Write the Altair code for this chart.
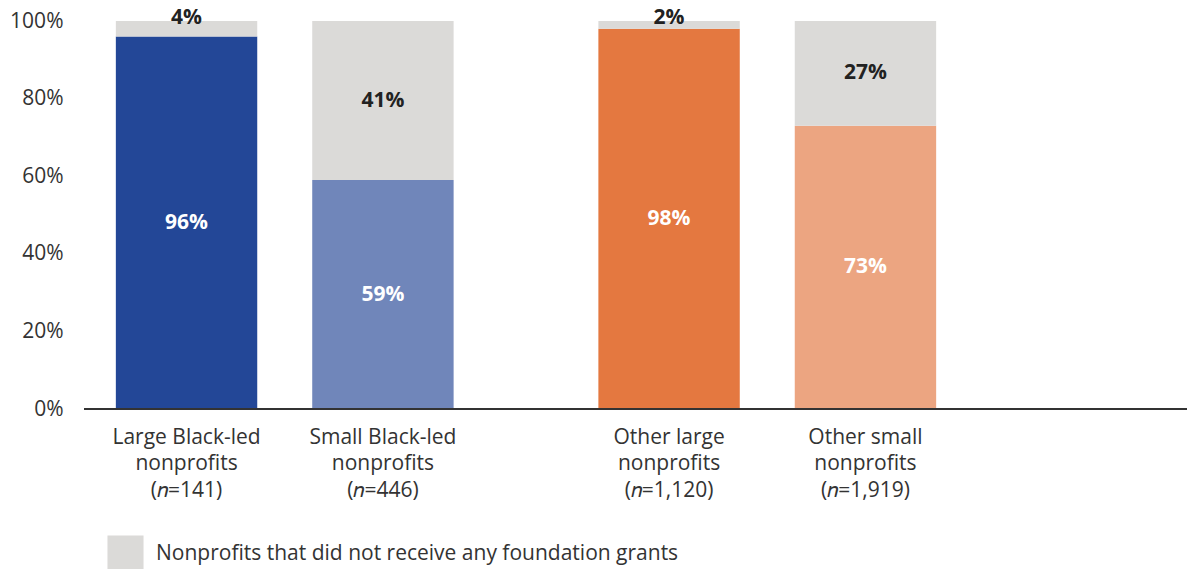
import altair as alt
import pandas as pd

# ---- data ----
groups = ["Black-led", "Black-led", "Other", "Other"]
sizes = ["Large", "Small", "Large", "Small"]
names = ["Large Black-led nonprofits", "Small Black-led nonprofits",
         "Other large nonprofits", "Other small nonprofits"]
line1 = ["Large Black-led", "Small Black-led", "Other large", "Other small"]
line2 = ["nonprofits", "nonprofits", "nonprofits", "nonprofits"]
sample_n = ["141", "446", "1,120", "1,919"]
received = [96, 59, 98, 73]
not_received = [4, 41, 2, 27]
none_label = "Nonprofits that did not receive any foundation grants"

bar_colors = ["#234797", "#7086ba", "#e47840", "#eca581"]
gray = "#dbdad8"
FONT = "Open Sans"
FS = 21

rows = []
for g, s, nm, r, nr in zip(groups, sizes, names, received, not_received):
    rows.append(dict(group=g, size=s, key=nm, seg="received", y0=0, y1=r, val=r))
    rows.append(dict(group=g, size=s, key=none_label, seg="none", y0=r, y1=r + nr, val=nr))
df = pd.DataFrame(rows)
df["mid"] = (df["y0"] + df["y1"]) / 2
df["lbl"] = df["val"].astype(str) + "%"

lab = pd.DataFrame(dict(group=groups, size=sizes,
                        text=[f"{a}\n{b}\n(\U0001D45B={n})" for a, b, n in zip(line1, line2, sample_n)]))

W, H = 884, 388

xs = alt.X("group:N", axis=None, scale=alt.Scale(paddingInner=0.30, paddingOuter=0.066))
xo = alt.XOffset("size:N", scale=alt.Scale(paddingInner=0.28, paddingOuter=0))

bars = alt.Chart(df).mark_bar().encode(
    x=xs, xOffset=xo,
    y=alt.Y("y0:Q", scale=alt.Scale(domain=[0, 100]), title=None,
            axis=alt.Axis(values=[0, 20, 40, 60, 80, 100], labelExpr="datum.value + '%'",
                          domain=False, ticks=False, grid=False, labelFontSize=FS,
                          labelPadding=21, labelColor="#333", labelFont=FONT)),
    y2="y1:Q",
    color=alt.Color("key:N",
                    scale=alt.Scale(domain=names + [none_label], range=bar_colors + [gray]),
                    legend=alt.Legend(values=[none_label], title=None, orient="none",
                                      legendX=23, legendY=514, symbolType="square",
                                      symbolSize=1300, symbolStrokeWidth=0, symbolOpacity=1,
                                      labelFontSize=FS, labelOffset=12, padding=0,
                                      labelLimit=0, labelFont=FONT, labelColor="#333")),
)

txt_recv = alt.Chart(df).transform_filter("datum.seg == 'received'").mark_text(
    font=FONT, fontSize=FS, fontWeight="bold", color="white", baseline="middle"
).encode(x=xs, xOffset=xo, y="mid:Q", text="lbl:N")

txt_none_big = alt.Chart(df).transform_filter("datum.seg == 'none' && datum.val >= 10").mark_text(
    font=FONT, fontSize=FS, fontWeight="bold", color="#222", baseline="middle"
).encode(x=xs, xOffset=xo, y="mid:Q", text="lbl:N")

txt_none_small = alt.Chart(df).transform_filter("datum.seg == 'none' && datum.val < 10").mark_text(
    font=FONT, fontSize=FS, fontWeight="bold", color="#222", baseline="middle", dy=-3
).encode(x=xs, xOffset=xo, y="y1:Q", text="lbl:N")

xlabels = alt.Chart(lab).mark_text(
    font=FONT, fontSize=FS, color="#333", baseline="top", align="center",
    lineBreak="\n", lineHeight=26.5, dy=17.5
).encode(x=xs, xOffset=xo, y=alt.value(H), text="text:N")

baseline = alt.Chart(df).mark_rule(color="#333", strokeWidth=2).encode(
    x=alt.value(0), x2=alt.value(1103), y=alt.value(H))

chart = alt.layer(bars, baseline, txt_recv, txt_none_big, txt_none_small, xlabels).properties(
    width=W, height=H,
    autosize=alt.AutoSizeParams(type="none"),
    padding={"left": 84, "top": 21, "right": 219, "bottom": 160},
).configure_view(stroke=None)

chart.save("out.html", embed_options={"renderer": "svg", "actions": False})
